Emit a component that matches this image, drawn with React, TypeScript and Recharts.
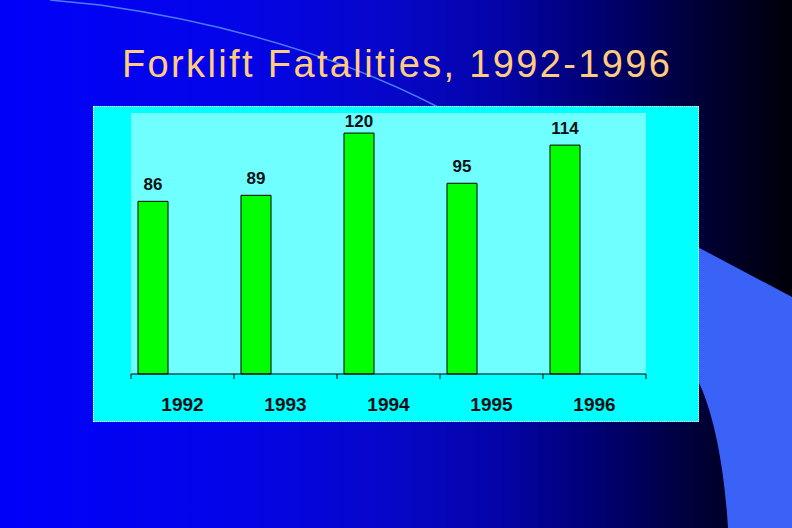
import React from "react";
import { BarChart, Bar, XAxis, YAxis, CartesianGrid, LabelList } from "recharts";

const years = ["1992", "1993", "1994", "1995", "1996"];
const fatalities = [86, 89, 120, 95, 114];
const yDomain = [0, 130];

const data = years.map((year, i) => ({ year, fatalities: fatalities[i] }));

const FONT = '"Liberation Sans", Arial, sans-serif';

const YearTick = (props: any) => {
  const { x, y, payload, index, visibleTicksCount } = props;
  const count = visibleTicksCount || years.length;
  const band = typeof props.width === "number" && props.width > 0 ? props.width / count : 103;
  const left = x - band / 2;
  return (
    <g>
      <line x1={left} y1={y} x2={left} y2={y + 5} stroke="#000" strokeWidth={1} />
      {index === count - 1 && (
        <line x1={x + band / 2} y1={y} x2={x + band / 2} y2={y + 5} stroke="#000" strokeWidth={1} />
      )}
      <text
        x={x}
        y={y + 30}
        textAnchor="middle"
        dominantBaseline="central"
        fontFamily={FONT}
        fontWeight="bold"
        fontSize={19}
        fill="#0a0f14"
      >
        {payload.value}
      </text>
    </g>
  );
};

const ValueLabel = (props: any) => {
  const vb = props.viewBox && typeof props.viewBox.x === "number" ? props.viewBox : props;
  const { x, y, width } = vb;
  const cy = Math.max(y - 17, 15);
  return (
    <text
      x={x + width / 2}
      y={cy}
      textAnchor="middle"
      dominantBaseline="central"
      fontFamily={FONT}
      fontWeight="bold"
      fontSize={17}
      fill="#0a0f14"
    >
      {props.value}
    </text>
  );
};

export default function App() {
  return (
    <div
      style={{
        position: "fixed",
        left: 0,
        top: 0,
        width: 792,
        height: 528,
        overflow: "hidden",
      }}
    >
      <svg width={792} height={528} style={{ position: "absolute", left: 0, top: 0 }}>
        <defs>
          <linearGradient id="bg" x1="0" y1="0" x2="1" y2="0">
            <stop offset="0" stopColor="#0000FA" />
            <stop offset="0.3" stopColor="#0404E8" />
            <stop offset="0.5" stopColor="#0606C8" />
            <stop offset="0.63" stopColor="#0404A8" />
            <stop offset="0.76" stopColor="#000070" />
            <stop offset="0.88" stopColor="#000038" />
            <stop offset="1" stopColor="#000008" />
          </linearGradient>
        </defs>
        <rect x={0} y={0} width={792} height={528} fill="url(#bg)" />
        <path
          d="M 690 243 L 792 297 L 792 528 L 728 528 C 724 460 712 410 699 383 L 690 380 Z"
          fill="#3A62F6"
        />
        <path
          d="M 50 0 L 100 5 Q 296 33 440 108"
          fill="none"
          stroke="#4C7CF4"
          strokeWidth={1.5}
        />
        <text
          x={122}
          y={77}
          textLength={548}
          lengthAdjust="spacing"
          fontFamily={FONT}
          fontSize={38}
          fill="#FFCC80"
        >
          Forklift Fatalities, 1992-1996
        </text>
      </svg>
      <div
        style={{
          position: "absolute",
          left: 93,
          top: 106,
          width: 606,
          height: 316,
          background: "#00FFFF",
          outline: "1px dotted #ffffff",
          outlineOffset: -1,
        }}
      >
        <BarChart
          width={606}
          height={316}
          data={data}
          margin={{ top: 7, right: 53, left: 38, bottom: 0 }}
          barCategoryGap={7}
          barGap={0}
        >
          <CartesianGrid fill="#70FFFF" stroke="none" horizontal={false} vertical={false} />
          <XAxis
            dataKey="year"
            height={48}
            axisLine={{ stroke: "#000", strokeWidth: 1 }}
            tickLine={false}
            tickSize={0}
            tickMargin={0}
            tick={<YearTick />}
            interval={0}
          />
          <YAxis hide domain={yDomain} />
          <Bar dataKey="fatalities" fill="#00FF00" stroke="#000" strokeWidth={1} isAnimationActive={false}>
            <LabelList dataKey="fatalities" content={<ValueLabel />} />
          </Bar>
          <Bar dataKey="spacerA" fill="none" isAnimationActive={false} />
          <Bar dataKey="spacerB" fill="none" isAnimationActive={false} />
        </BarChart>
      </div>
    </div>
  );
}
